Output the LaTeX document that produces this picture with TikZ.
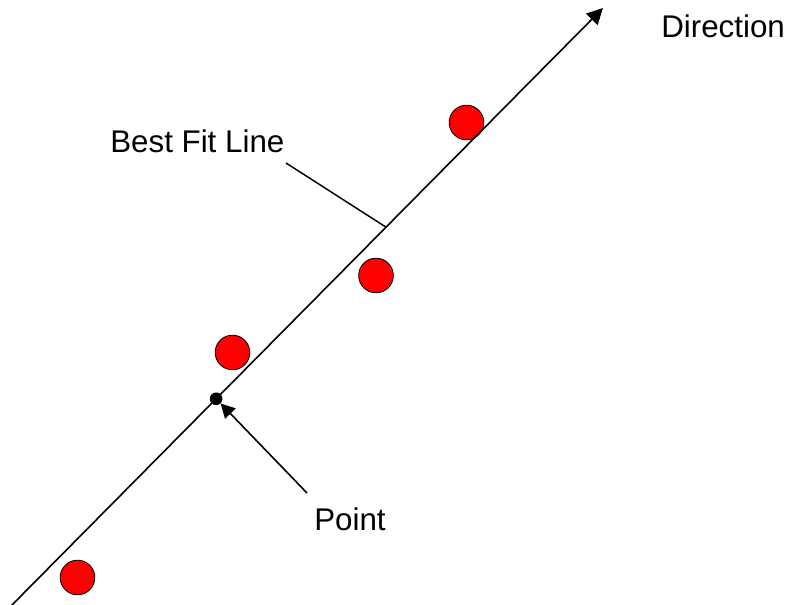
\documentclass[tikz,border=0pt]{standalone}
\usepackage{fontspec}
\setmainfont{Liberation Sans}
\usetikzlibrary{arrows.meta, positioning, calc}
\tikzset{
  sample/.style = {circle, draw=black, line width=0.6pt, fill=red,
                   minimum size=26pt, inner sep=0pt},
  anchorpt/.style = {circle, fill=black, minimum size=9.5pt, inner sep=0pt},
  lbl/.style    = {inner sep=0pt, anchor=base west,
                   font=\fontsize{23.5}{28}\selectfont},
  fitline/.style = {line width=1.2pt, -{Triangle[length=12pt, width=12pt]}},
  arr/.style    = {line width=1.2pt, -{Triangle[length=10.5pt, width=11pt]}},
  leader/.style = {line width=1.1pt},
}
\begin{document}
\begin{tikzpicture}[x=0.75pt, y=-0.75pt]
\useasboundingbox (0,0) rectangle (790,605);

% -- Line ends --
\coordinate (lstart) at (11,606);
\coordinate (lend)   at (603,8);

% -- Sample points --
\node[sample] (s1) at (466.5,122.5) {};
\node[sample] (s2) at (376,275.5) {};
\node[sample] (s3) at (232.5,352.5) {};
\node[sample] (s4) at (77.5,577.5) {};

% -- Best fit line --
\draw[fitline] (lstart) -- (lend);

% -- Point on the line --
\node[anchorpt] (pt) at ($(lstart)!0.3465!(lend)$) {};

% -- Labels --
\node[lbl] (dir)  at (661,37.5) {Direction};
\node[lbl] (bfl)  at (110,153)  {Best Fit Line};
\node[lbl] (plbl) at (314,531)  {Point};

% -- Leaders --
\coordinate (lead)  at (286,163);
\coordinate (touch) at ($(lstart)!0.6335!(lend)$);
\draw[leader] (lead) -- (touch);

\coordinate (ptail) at (307,493);
\draw[arr] (ptail) -- (pt);

\end{tikzpicture}
\end{document}
